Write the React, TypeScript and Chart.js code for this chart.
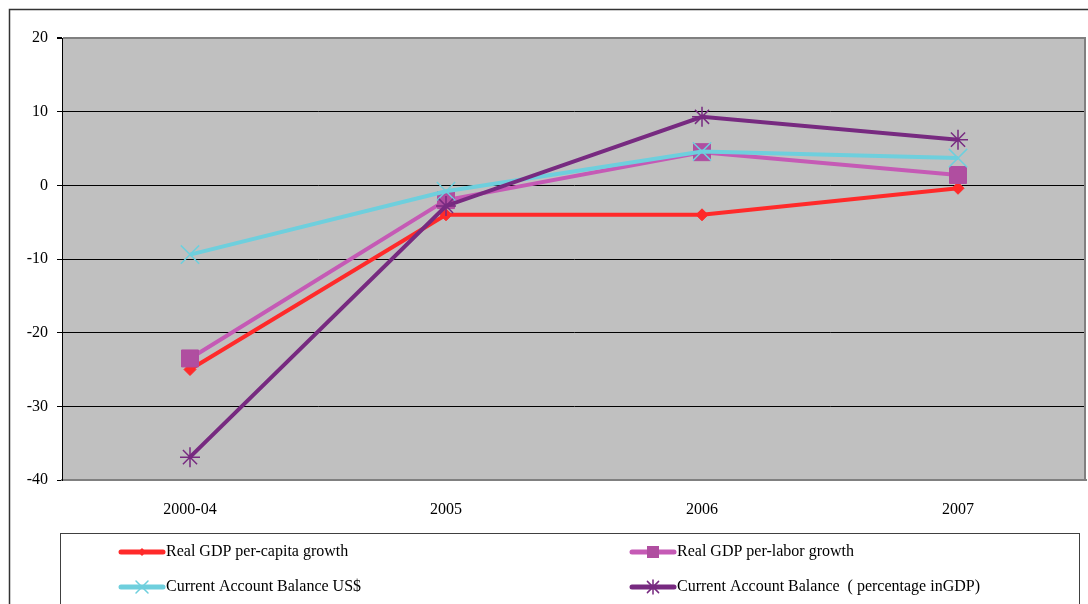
import React, { useEffect, useRef } from "react";
import { Chart, registerables } from "chart.js";

Chart.register(...registerables);

const categories = ["2000-04", "2005", "2006", "2007"];
const gdpPerCapitaGrowth = [-25.0, -4.0, -4.0, -0.4];
const gdpPerLaborGrowth = [-23.5, -2.0, 4.5, 1.4];
const currentAccountUsd = [-9.4, -0.8, 4.6, 3.7];
const currentAccountPctGdp = [-36.9, -2.8, 9.3, 6.2];
const seriesLabels = [
  "Real GDP per-capita growth",
  "Real GDP per-labor growth",
  "Current Account Balance US$",
  "Current Account Balance  ( percentage inGDP)",
];
const yMin = -40;
const yMax = 20;
const yStep = 10;

const FONT = "'Liberation Serif', 'Times New Roman', serif";

function drawMarker(ctx: CanvasRenderingContext2D, style: string, x: number, y: number, r: number, color: string) {
  ctx.save();
  ctx.fillStyle = color;
  ctx.strokeStyle = color;
  ctx.lineWidth = 1.5;
  ctx.beginPath();
  if (style === "rect") {
    ctx.fillRect(x - r, y - r, 2 * r, 2 * r);
  } else if (style === "rectRot") {
    ctx.moveTo(x, y - r);
    ctx.lineTo(x + r, y);
    ctx.lineTo(x, y + r);
    ctx.lineTo(x - r, y);
    ctx.closePath();
    ctx.fill();
  } else if (style === "crossRot") {
    ctx.moveTo(x - r, y - r);
    ctx.lineTo(x + r, y + r);
    ctx.moveTo(x + r, y - r);
    ctx.lineTo(x - r, y + r);
    ctx.stroke();
  } else if (style === "star") {
    const d = r * 0.8;
    ctx.moveTo(x - d, y - d);
    ctx.lineTo(x + d, y + d);
    ctx.moveTo(x + d, y - d);
    ctx.lineTo(x - d, y + d);
    ctx.moveTo(x, y - r);
    ctx.lineTo(x, y + r);
    ctx.stroke();
  }
  ctx.restore();
}

const framePlugin = {
  id: "framePlugin",
  beforeDraw(chart: any) {
    const { ctx, chartArea } = chart;
    ctx.save();
    ctx.fillStyle = "#ffffff";
    ctx.fillRect(0, 0, chart.width, chart.height);
    ctx.strokeStyle = "#333333";
    ctx.lineWidth = 1.5;
    ctx.strokeRect(9.5, 9.5, chart.width + 20, chart.height + 20);
    ctx.fillStyle = "#C0C0C0";
    ctx.fillRect(chartArea.left, chartArea.top, chartArea.right - chartArea.left, chartArea.bottom - chartArea.top);
    ctx.restore();
  },
  afterDraw(chart: any) {
    const { ctx, chartArea } = chart;
    ctx.save();
    ctx.strokeStyle = "#808080";
    ctx.lineWidth = 2;
    ctx.beginPath();
    ctx.moveTo(chartArea.right - 1, chartArea.top);
    ctx.lineTo(chartArea.right - 1, chartArea.bottom);
    ctx.stroke();

    // legend box
    ctx.strokeStyle = "#404040";
    ctx.lineWidth = 1;
    ctx.strokeRect(60.5, 533.5, 1019, 120);

    const cols = [121, 632];
    const rows = [552, 587];
    const markerR = [4, 6, 6, 7];
    chart.data.datasets.forEach((ds: any, i: number) => {
      const x0 = cols[i % 2];
      const y = rows[Math.floor(i / 2)];
      ctx.strokeStyle = ds.borderColor;
      ctx.lineWidth = 5;
      ctx.lineCap = "round";
      ctx.beginPath();
      ctx.moveTo(x0, y);
      ctx.lineTo(x0 + 42, y);
      ctx.stroke();
      drawMarker(ctx, ds.pointStyle, x0 + 21, y, markerR[i], ds.pointBackgroundColor);
      ctx.fillStyle = "#000000";
      ctx.font = `16px ${FONT}`;
      ctx.textBaseline = "middle";
      ctx.textAlign = "left";
      ctx.fillText(ds.label, x0 + 45, y);
    });
    ctx.restore();
  },
};

export default function App() {
  const ref = useRef<HTMLCanvasElement | null>(null);

  useEffect(() => {
    if (!ref.current) return;
    const seriesData = [gdpPerCapitaGrowth, gdpPerLaborGrowth, currentAccountUsd, currentAccountPctGdp];
    const lineColors = ["#FF2A2A", "#C55AB5", "#6ECFDD", "#772A80"];
    const markerColors = ["#FF2A2A", "#B04EA0", "#6ECFDD", "#772A80"];
    const styles = ["rectRot", "rect", "crossRot", "star"];
    const radii = [6, 12, 13, 10];
    const chart = new Chart(ref.current, {
      type: "line",
      data: {
        labels: categories,
        datasets: seriesData.map((d, i) => ({
          label: seriesLabels[i],
          data: d,
          borderColor: lineColors[i],
          backgroundColor: markerColors[i],
          borderWidth: 4,
          pointStyle: styles[i],
          pointRadius: radii[i],
          pointBackgroundColor: markerColors[i],
          pointBorderColor: markerColors[i],
          pointBorderWidth: i >= 2 ? 1.5 : 1,
          tension: 0,
          order: 3 - i,
        })),
      },
      options: {
        responsive: false,
        animation: false,
        layout: { autoPadding: false, padding: { left: 0, top: 38, right: 2, bottom: 84 } },
        plugins: {
          legend: { display: false },
          tooltip: { enabled: false },
        },
        scales: {
          x: {
            offset: true,
            grid: { display: false, drawTicks: false, offset: true },
            border: { display: true, color: "#808080", width: 2 },
            ticks: { color: "#000", font: { family: FONT, size: 16 }, padding: 20, maxRotation: 0 },
            afterFit: (s: any) => {
              s.height = 40;
            },
          },
          y: {
            min: yMin,
            max: yMax,
            ticks: { stepSize: yStep, color: "#000", font: { family: FONT, size: 16 }, padding: 9 },
            grid: {
              color: (c: any) => (c.tick && (c.tick.value === yMax || c.tick.value === yMin) ? "#808080" : "#000000"),
              lineWidth: (c: any) => (c.tick && c.tick.value === yMax ? 2 : 1),
              tickLength: 5,
              tickColor: "#000000",
            },
            border: { display: true, color: "#000000", width: 1 },
            afterFit: (s: any) => {
              s.width = 62;
            },
          },
        },
      },
      plugins: [framePlugin],
    } as any);
    return () => chart.destroy();
  }, []);

  return (
    <div style={{ position: "absolute", left: 0, top: 0, width: 1088, height: 604 }}>
      <canvas ref={ref} width={1088} height={604} style={{ display: "block" }} />
    </div>
  );
}
